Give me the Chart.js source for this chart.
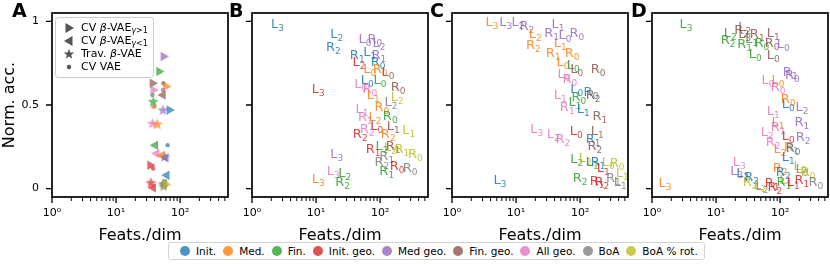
<!DOCTYPE html>
<html>
<head>
<meta charset="utf-8">
<script src="https://cdn.jsdelivr.net/npm/chart.js"></script>
<style>
  body { margin: 0; background: #fff; }
  #wrap { position: relative; width: 830px; height: 264px; overflow: hidden; font-family: "DejaVu Sans"; }
  #wrap canvas { position: absolute; top: 0; }
  .letter { position: absolute; top: 1px; font: bold 19px "DejaVu Sans"; line-height: 19px; }
  #legend { position: absolute; left: 168px; top: 242px; height: 18px; box-sizing: border-box;
    border: 1px solid #d3d3d3; border-radius: 3px; background: #fff; display: flex; align-items: center;
    padding: 0 6px 0 11px; font-size: 10.5px; white-space: nowrap; }
  #legend .item { display: flex; align-items: center; margin-right: 7px; }
  #legend .item:last-child { margin-right: 0; }
  #legend .dot { width: 10px; height: 10px; border-radius: 50%; margin-right: 6px; }
</style>
</head>
<body>
<div id="wrap">
  <canvas id="chartA" width="240" height="264" style="left:0px"></canvas>
  <canvas id="chartB" width="200" height="264" style="left:240px"></canvas>
  <canvas id="chartC" width="200" height="264" style="left:440px"></canvas>
  <canvas id="chartD" width="190" height="264" style="left:640px"></canvas>
  <div class="letter" style="left:12px">A</div>
  <div class="letter" style="left:229px">B</div>
  <div class="letter" style="left:430px">C</div>
  <div class="letter" style="left:631px">D</div>
  <div id="legend"></div>
</div>
<script>
// groups (colour legend at the bottom)
const groupNames = ['Init.', 'Med.', 'Fin.', 'Init. geo.', 'Med geo.', 'Fin. geo.', 'All geo.', 'BoA', 'BoA % rot.'];
const groupColors = ['#1f77b4', '#ff7f0e', '#2ca02c', '#d62728', '#9467bd', '#8c564b', '#e377c2', '#7f7f7f', '#bcbd22'];

// axes
const xMin = 1, xMax = 560;
const yMin = -0.05, yMax = 1.05;
const xMajor = [1, 10, 100];
const xMinor = [2, 3, 4, 5, 6, 7, 8, 9, 20, 30, 40, 50, 60, 70, 80, 90, 200, 300, 400, 500];
const yTicks = [0, 0.5, 1];

// panel A: [group, feats/dim, norm. acc.]
const cvBetaUp = [[4, 55, 0.79], [2, 47, 0.70], [5, 37, 0.63], [1, 60, 0.61], [6, 38, 0.59], [0, 68, 0.47], [3, 34, 0.14], [8, 60, 0.025]];
const cvBetaDown = [[5, 54, 0.56], [2, 41, 0.26], [6, 43, 0.21], [1, 52, 0.20], [4, 60, 0.185], [0, 62, 0.08], [3, 38, 0.005], [7, 57, 0.03]];
const travBeta = [[2, 38, 0.52], [4, 54, 0.47], [6, 37, 0.39], [1, 44, 0.385], [0, 57, 0.19], [3, 35, 0.035], [8, 54, 0.03], [7, 55, 0.015]];
const cvVae = [[5, 55, 0.63], [4, 54, 0.59], [2, 37, 0.56], [6, 38, 0.49], [1, 40, 0.49], [0, 64, 0.26], [3, 38, 0.12], [7, 56, 0.045], [8, 57, 0.01]];

// panels B-D: [label, group, feats/dim, norm. acc.]
const layersB = [
  ['L3', 0, 2.5, 0.99], ['L2', 0, 21, 0.93], ['R2', 0, 18.6, 0.85], ['L0', 4, 58, 0.90], ['R0', 4, 83, 0.90],
  ['L2', 4, 96, 0.875], ['L1', 0, 69, 0.82], ['R1', 0, 44, 0.80], ['L2', 3, 47, 0.76], ['R1', 4, 96, 0.80],
  ['R0', 0, 93, 0.76], ['L0', 1, 69, 0.72], ['R0', 1, 100, 0.72], ['L0', 5, 133, 0.70], ['L0', 2, 100, 0.65],
  ['L0', 0, 63, 0.65], ['L0', 6, 50, 0.63], ['R0', 6, 69, 0.60], ['R0', 5, 191, 0.61], ['L3', 3, 10.8, 0.60],
  ['L1', 1, 78, 0.56], ['L2', 8, 185, 0.55], ['L2', 7, 148, 0.52], ['L1', 6, 52, 0.48], ['R0', 1, 107, 0.49],
  ['R1', 6, 59, 0.43], ['L2', 1, 83, 0.43], ['R0', 2, 144, 0.44], ['L1', 5, 160, 0.375], ['L1', 8, 280, 0.355],
  ['R2', 6, 63, 0.36], ['L0', 3, 89, 0.38], ['R2', 3, 49, 0.33], ['R2', 1, 134, 0.33], ['L3', 4, 21, 0.21],
  ['R1', 3, 78, 0.24], ['L2', 2, 107, 0.26], ['L2', 8, 144, 0.25], ['R1', 5, 160, 0.26], ['R1', 8, 219, 0.24],
  ['R0', 8, 355, 0.21], ['R1', 7, 127, 0.20], ['R2', 7, 107, 0.16], ['R0', 3, 185, 0.14], ['R0', 7, 295, 0.125],
  ['R1', 2, 127, 0.11], ['L3', 6, 18.6, 0.11], ['L2', 2, 28, 0.095], ['R2', 2, 26, 0.04], ['L3', 1, 10.8, 0.06]
];
const layersC = [
  ['L3', 1, 4.2, 1.0], ['L3', 4, 6.9, 1.0], ['L2', 4, 10.7, 1.0], ['R2', 4, 14.8, 0.975], ['L2', 1, 20, 0.93],
  ['R2', 1, 18.6, 0.86], ['L1', 4, 45, 0.99], ['R1', 4, 36, 0.935], ['L0', 4, 58, 0.92], ['R0', 4, 89, 0.935],
  ['L1', 1, 49, 0.875], ['R1', 1, 38, 0.815], ['R0', 1, 75, 0.815], ['L0', 1, 54, 0.76], ['L0', 2, 78, 0.74],
  ['L0', 5, 89, 0.72], ['R0', 5, 191, 0.72], ['L0', 6, 56, 0.69], ['R0', 6, 69, 0.66], ['L0', 0, 89, 0.60],
  ['R0', 0, 148, 0.58], ['R2', 5, 160, 0.565], ['L1', 6, 49, 0.56], ['R0', 2, 96, 0.55], ['L1', 2, 83, 0.52],
  ['R1', 6, 63, 0.49], ['L1', 0, 112, 0.48], ['R1', 5, 204, 0.435], ['L3', 6, 21, 0.36], ['L2', 6, 38, 0.33],
  ['R2', 6, 54, 0.30], ['L0', 3, 87, 0.35], ['L1', 5, 185, 0.35], ['R1', 0, 160, 0.30], ['R2', 5, 170, 0.26],
  ['L2', 2, 89, 0.18], ['L2', 8, 120, 0.185], ['L1', 2, 155, 0.16], ['R1', 0, 191, 0.16], ['L0', 8, 275, 0.16],
  ['R0', 8, 380, 0.155], ['L1', 3, 229, 0.125], ['R2', 2, 100, 0.065], ['R1', 3, 185, 0.05], ['R2', 3, 219, 0.04],
  ['R1', 7, 330, 0.065], ['L1', 7, 425, 0.04], ['L1', 8, 457, 0.095], ['L3', 0, 5.6, 0.055]
];
const layersD = [
  ['L3', 2, 3.4, 0.99], ['L2', 2, 16.6, 0.935], ['R2', 2, 15.4, 0.89], ['L2', 5, 28, 0.97], ['R2', 5, 25, 0.95],
  ['L3', 5, 28, 0.93], ['R1', 5, 44, 0.93], ['L1', 5, 78, 0.935], ['R0', 5, 75, 0.875], ['L0', 5, 78, 0.80],
  ['L0', 4, 112, 0.87], ['R1', 2, 28, 0.87], ['L1', 2, 36, 0.90], ['R0', 2, 52, 0.875], ['L0', 2, 41, 0.81],
  ['R1', 4, 144, 0.70], ['R0', 4, 155, 0.68], ['L0', 1, 93, 0.65], ['L0', 6, 65, 0.65], ['R0', 6, 93, 0.61],
  ['R0', 1, 134, 0.54], ['L0', 0, 134, 0.51], ['L2', 4, 219, 0.49], ['L1', 6, 78, 0.47], ['R1', 4, 219, 0.40],
  ['L1', 1, 93, 0.40], ['R1', 6, 93, 0.37], ['L2', 6, 63, 0.34], ['L0', 3, 134, 0.32], ['R2', 4, 229, 0.31],
  ['R2', 6, 78, 0.28], ['L2', 1, 100, 0.24], ['R1', 1, 150, 0.25], ['R0', 0, 160, 0.245], ['L1', 0, 134, 0.19],
  ['L0', 8, 204, 0.14], ['L0', 7, 219, 0.12], ['R0', 8, 275, 0.10], ['R2', 1, 100, 0.125], ['R2', 0, 112, 0.10],
  ['L3', 6, 23, 0.16], ['L3', 4, 21, 0.11], ['L2', 0, 26, 0.095], ['R2', 0, 36, 0.075], ['R2', 8, 34, 0.04],
  ['L2', 8, 49, 0.025], ['L2', 7, 52, 0.02], ['R1', 3, 75, 0.035], ['R2', 3, 83, 0.01], ['L1', 8, 123, 0.055],
  ['R1', 2, 115, 0.04], ['L1', 3, 160, 0.04], ['R1', 3, 219, 0.055], ['R0', 7, 363, 0.04], ['L3', 1, 1.6, 0.035]
];

const FONT = '"DejaVu Sans"';
Chart.defaults.font.family = FONT;
Chart.defaults.color = '#000';

function rgba(hex, a) {
  const n = parseInt(hex.slice(1), 16);
  return `rgba(${n >> 16},${(n >> 8) & 255},${n & 255},${a})`;
}

function starPath(g, cx, cy, r) {
  g.beginPath();
  for (let k = 0; k < 10; k++) {
    const rr = k % 2 ? r * 0.42 : r;
    const a = -Math.PI / 2 + k * Math.PI / 5;
    g.lineTo(cx + rr * Math.cos(a), cy + rr * Math.sin(a));
  }
  g.closePath();
}

const starCache = {};
function starImage(color) {
  if (starCache[color]) return starCache[color];
  const c = document.createElement('canvas');
  c.width = c.height = 13;
  const g = c.getContext('2d');
  g.fillStyle = color;
  starPath(g, 6.5, 6.8, 5.8);
  g.fill();
  starCache[color] = c;
  return c;
}

function markerSet(rows, style, rotation, radius) {
  return {
    data: rows.map(r => ({x: r[1], y: r[2]})),
    pointStyle: rows.map(r => style === 'star' ? starImage(rgba(groupColors[r[0]], 0.7)) : style),
    rotation: rotation,
    pointRadius: radius,
    backgroundColor: rows.map(r => rgba(groupColors[r[0]], 0.7)),
    borderColor: 'rgba(0,0,0,0)',
    borderWidth: 0
  };
}

// frame + tick marks, drawn like matplotlib
const frameTicks = {
  id: 'frameTicks',
  afterDraw(chart) {
    const {ctx, chartArea: a, scales: {x, y}} = chart;
    ctx.save();
    ctx.strokeStyle = '#000';
    ctx.lineWidth = 1.3;
    ctx.beginPath();
    xMajor.forEach(v => { const p = x.getPixelForValue(v); ctx.moveTo(p, a.bottom); ctx.lineTo(p, a.bottom + 6); });
    yTicks.forEach(v => { const p = y.getPixelForValue(v); ctx.moveTo(a.left, p); ctx.lineTo(a.left - 6, p); });
    ctx.stroke();
    ctx.lineWidth = 1;
    ctx.beginPath();
    xMinor.forEach(v => { const p = x.getPixelForValue(v); ctx.moveTo(p, a.bottom); ctx.lineTo(p, a.bottom + 4); });
    ctx.stroke();
    ctx.lineWidth = 1.7;
    ctx.strokeRect(a.left, a.top, a.right - a.left, a.bottom - a.top);
    ctx.restore();
  }
};

function drawSubLabel(ctx, main, sub, px, py, color) {
  ctx.font = '13px ' + FONT;
  const w1 = ctx.measureText(main).width;
  ctx.font = '9px ' + FONT;
  const w2 = ctx.measureText(sub).width;
  const x0 = px - (w1 + w2) / 2;
  const base = py + 4.5;
  ctx.fillStyle = color;
  ctx.textBaseline = 'alphabetic';
  ctx.textAlign = 'left';
  ctx.font = '13px ' + FONT;
  ctx.fillText(main, x0, base);
  ctx.font = '9px ' + FONT;
  ctx.fillText(sub, x0 + w1, base + 3);
}

// layer labels (L0..L3 / R0..R3) placed at their data points
const textMarks = {
  id: 'textMarks',
  afterDatasetsDraw(chart) {
    const ctx = chart.ctx;
    ctx.save();
    chart.data.datasets.forEach((ds, i) => {
      if (!ds.marks) return;
      chart.getDatasetMeta(i).data.forEach((pt, j) => {
        const [name, g] = ds.marks[j];
        drawSubLabel(ctx, name[0], name.slice(1), pt.x, pt.y, rgba(groupColors[g], 0.85));
      });
    });
    ctx.restore();
  }
};

function drawRuns(ctx, runs, x, y) {
  runs.forEach(r => {
    ctx.font = r.f;
    ctx.fillText(r.t, x, y + (r.dy || 0));
    x += ctx.measureText(r.t).width;
  });
}

// marker legend in panel A
const markerLegend = {
  id: 'markerLegend',
  afterDraw(chart) {
    const ctx = chart.ctx;
    ctx.save();
    ctx.fillStyle = 'rgba(255,255,255,0.8)';
    ctx.strokeStyle = '#cccccc';
    ctx.lineWidth = 1;
    ctx.beginPath();
    ctx.roundRect(55.5, 17.5, 98, 60, 3);
    ctx.fill();
    ctx.stroke();
    const mk = '#555555';
    const mx = 69;
    const rows = [28, 41, 54, 67];
    ctx.fillStyle = mk;
    // right / left triangles
    ctx.beginPath();
    ctx.moveTo(mx + 5, rows[0]); ctx.lineTo(mx - 3.5, rows[0] - 5); ctx.lineTo(mx - 3.5, rows[0] + 5); ctx.closePath();
    ctx.fill();
    ctx.beginPath();
    ctx.moveTo(mx - 5, rows[1]); ctx.lineTo(mx + 3.5, rows[1] - 5); ctx.lineTo(mx + 3.5, rows[1] + 5); ctx.closePath();
    ctx.fill();
    starPath(ctx, mx, rows[2] + 0.3, 5.5);
    ctx.fill();
    ctx.beginPath();
    ctx.arc(mx, rows[3], 2.2, 0, Math.PI * 2);
    ctx.fill();

    ctx.fillStyle = '#000';
    ctx.textBaseline = 'middle';
    ctx.textAlign = 'left';
    const n = '11px ' + FONT, it = 'italic 11px ' + FONT, s = '8px ' + FONT, si = 'italic 8px ' + FONT;
    const tx = 81;
    drawRuns(ctx, [{t: 'CV ', f: n}, {t: 'β', f: it}, {t: '-VAE', f: n}, {t: 'γ', f: si, dy: 3}, {t: '>1', f: s, dy: 3}], tx, rows[0]);
    drawRuns(ctx, [{t: 'CV ', f: n}, {t: 'β', f: it}, {t: '-VAE', f: n}, {t: 'γ', f: si, dy: 3}, {t: '<1', f: s, dy: 3}], tx, rows[1]);
    drawRuns(ctx, [{t: 'Trav. ', f: n}, {t: 'β', f: it}, {t: '-VAE', f: n}], tx, rows[2]);
    drawRuns(ctx, [{t: 'CV VAE', f: n}], tx, rows[3]);
    ctx.restore();
  }
};

const supDigits = {1: '10⁰', 10: '10¹', 100: '10²'};

function makePanel(id, datasets, showY, padRight, extraPlugins) {
  const yWidth = showY ? 52 : 12;
  new Chart(document.getElementById(id), {
    type: 'scatter',
    data: {datasets: datasets},
    plugins: [textMarks, frameTicks].concat(extraPlugins || []),
    options: {
      responsive: false,
      animation: false,
      events: [],
      layout: {padding: {top: 13, right: padRight, bottom: 0, left: 0}},
      plugins: {legend: {display: false}, tooltip: {enabled: false}},
      scales: {
        x: {
          type: 'logarithmic',
          min: xMin,
          max: xMax,
          grid: {display: false, drawTicks: false},
          border: {display: false},
          afterBuildTicks: s => { s.ticks = xMajor.map(v => ({value: v})); },
          afterFit: s => { s.height = 67; s.paddingLeft = 0; s.paddingRight = 0; },
          ticks: {
            autoSkip: false, maxRotation: 0, padding: 10,
            font: {size: 11},
            callback: v => supDigits[v] || ''
          },
          title: {display: true, text: 'Feats./dim', font: {size: 16}, padding: {top: 0, bottom: 19}}
        },
        y: {
          min: yMin,
          max: yMax,
          grid: {display: false, drawTicks: false},
          border: {display: false},
          afterBuildTicks: s => { s.ticks = yTicks.map(v => ({value: v})); },
          afterFit: s => { s.width = yWidth; s.paddingTop = 0; s.paddingBottom = 0; },
          ticks: {display: showY, padding: 13, font: {size: 11}, callback: v => String(v)},
          title: {display: showY, text: 'Norm. acc.', font: {size: 16}, padding: 0}
        }
      }
    }
  });
}

function layerSet(rows) {
  return {
    data: rows.map(r => ({x: r[2], y: r[3]})),
    marks: rows,
    pointRadius: 0,
    backgroundColor: 'rgba(0,0,0,0)',
    borderColor: 'rgba(0,0,0,0)'
  };
}

makePanel('chartA', [
  markerSet(cvBetaUp, 'triangle', 90, 5.5),
  markerSet(cvBetaDown, 'triangle', -90, 5.5),
  markerSet(travBeta, 'star', 0, 5),
  markerSet(cvVae, 'circle', 0, 2.2)
], true, 12, [markerLegend]);
makePanel('chartB', [layerSet(layersB)], false, 12);
makePanel('chartC', [layerSet(layersC)], false, 12);
makePanel('chartD', [layerSet(layersD)], false, 2);

// bottom colour legend
const legend = document.getElementById('legend');
groupNames.forEach((name, i) => {
  const item = document.createElement('div');
  item.className = 'item';
  const dot = document.createElement('span');
  dot.className = 'dot';
  dot.style.background = rgba(groupColors[i], 0.8);
  item.appendChild(dot);
  item.appendChild(document.createTextNode(name));
  legend.appendChild(item);
});
</script>
</body>
</html>
